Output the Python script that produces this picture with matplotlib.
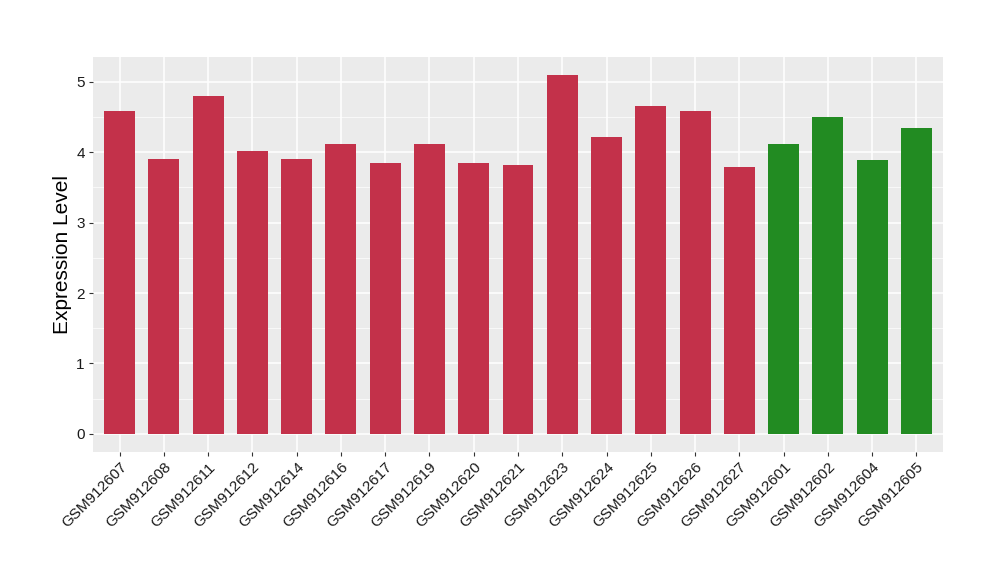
import numpy as np
import matplotlib.pyplot as plt

plt.rcParams['font.family'] = ['Liberation Sans', 'DejaVu Sans']

samples = ['GSM912607', 'GSM912608', 'GSM912611', 'GSM912612', 'GSM912614',
           'GSM912616', 'GSM912617', 'GSM912619', 'GSM912620', 'GSM912621',
           'GSM912623', 'GSM912624', 'GSM912625', 'GSM912626', 'GSM912627',
           'GSM912601', 'GSM912602', 'GSM912604', 'GSM912605']
values = [4.58, 3.91, 4.80, 4.02, 3.91, 4.11, 3.85, 4.11, 3.85, 3.82,
          5.10, 4.21, 4.65, 4.58, 3.79, 4.12, 4.50, 3.89, 4.35]
groups = ['a'] * 15 + ['b'] * 4
group_colors = {'a': '#C3314A', 'b': '#228B22'}

fig = plt.figure(figsize=(10, 5.8), dpi=100)
ax = fig.add_axes([0.093, 0.221, 0.850, 0.681])

x = np.arange(len(samples))
ax.bar(x, values, width=0.7, color=[group_colors[g] for g in groups], zorder=3)

ax.set_facecolor('#EBEBEB')
for s in ax.spines.values():
    s.set_visible(False)
ax.set_xlim(-0.6, len(samples) - 0.4)
ax.set_ylim(-0.255, 5.355)
ax.set_yticks(range(0, 6))
ax.set_yticks(np.arange(0.5, 5.5, 1), minor=True)
ax.set_xticks(x)
ax.set_xticklabels(samples, rotation=45, ha='right', va='top', rotation_mode='anchor')
ax.grid(which='major', color='white', lw=1.1, zorder=0)
ax.grid(which='minor', axis='y', color='white', lw=0.5, zorder=0)
ax.tick_params(which='major', length=3, color='#333333', labelsize=11, labelcolor='#1A1A1A', pad=3)
ax.tick_params(which='minor', length=0)
ax.set_ylabel('Expression Level', fontsize=15, labelpad=3)

fig.savefig('out.png')
